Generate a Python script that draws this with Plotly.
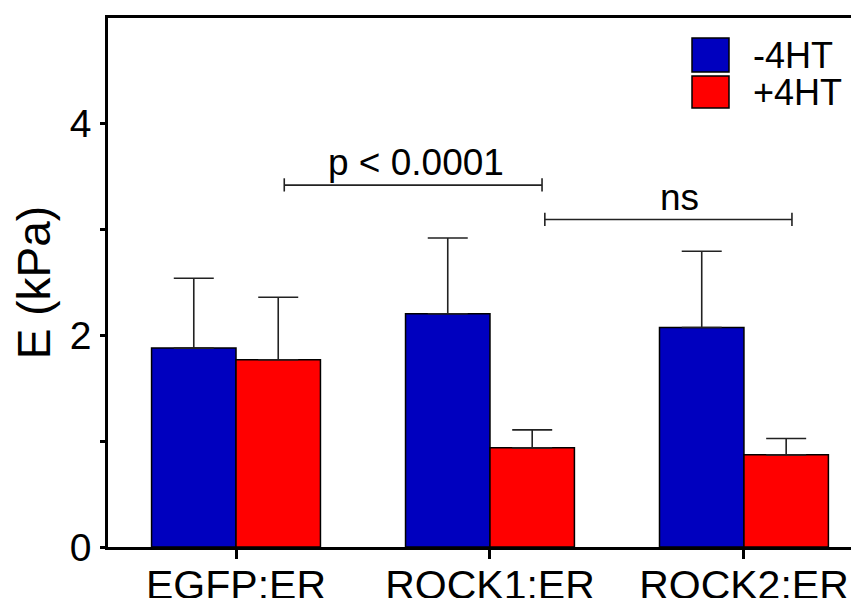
import plotly.graph_objects as go

categories = ["EGFP:ER", "ROCK1:ER", "ROCK2:ER"]
series_names = ["-4HT", "+4HT"]
minus_vals = [1.88, 2.205, 2.075]
minus_err = [0.66, 0.715, 0.72]
plus_vals = [1.77, 0.937, 0.871]
plus_err = [0.59, 0.17, 0.155]
colors = ["#0000BF", "#FF0000"]

# significance brackets: (x_start, x_end, y, label, label_x)
brackets = [
    (0.19, 1.205, 3.42, "p < 0.0001", 0.709),
    (1.216, 2.189, 3.095, "ns", 1.746),
]

FONT = "Liberation Sans, Arial, sans-serif"
xpos = list(range(len(categories)))

fig = go.Figure()
for name, vals, errs, col in [
    (series_names[0], minus_vals, minus_err, colors[0]),
    (series_names[1], plus_vals, plus_err, colors[1]),
]:
    fig.add_trace(go.Bar(
        x=xpos, y=vals, name=name,
        marker=dict(color=col, line=dict(color="black", width=1.5)),
        error_y=dict(type="data", array=errs, arrayminus=[0] * len(errs),
                     symmetric=False, color="#222", thickness=1.6, width=20),
        showlegend=False,
    ))

shapes = []
annotations = []
for x0, x1, y, label, lx in brackets:
    shapes.append(dict(type="line", xref="x", yref="y", x0=x0, x1=x1, y0=y, y1=y,
                       line=dict(color="#222", width=1.6)))
    for xe in (x0, x1):
        shapes.append(dict(type="line", xref="x", yref="y", x0=xe, x1=xe,
                           y0=y - 0.06, y1=y + 0.065, line=dict(color="#222", width=1.6)))
    annotations.append(dict(x=lx, y=y, xref="x", yref="y", text=label, showarrow=False,
                            yanchor="bottom", yshift=0,
                            font=dict(family=FONT, size=37, color="black")))

# manual legend (positions relative to the plot area)
leg_y = [(38, 72), (76, 108)]
plot_top, plot_h, plot_w = 18, 529, 751
for (ya, yb), name, col in zip(leg_y, series_names, colors):
    shapes.append(dict(type="rect", xref="paper", yref="paper",
                       x0=(692 - 108) / plot_w, x1=(729 - 108) / plot_w,
                       y0=1 - (yb - plot_top) / plot_h, y1=1 - (ya - plot_top) / plot_h,
                       fillcolor=col, line=dict(color="black", width=1.5)))
    annotations.append(dict(x=(751 - 108) / plot_w, y=1 - ((ya + yb) / 2 - plot_top) / plot_h,
                            xref="paper", yref="paper", text=name, showarrow=False,
                            xanchor="left", yanchor="middle",
                            font=dict(family=FONT, size=36, color="black")))

# the page body adds an 8px margin, so the figure is 8px smaller
fig.update_layout(
    width=851, height=590,
    margin=dict(l=100, r=0, t=10, b=51),
    paper_bgcolor="white", plot_bgcolor="white",
    barmode="group", bargap=0.335, bargroupgap=0,
    shapes=shapes, annotations=annotations,
    font=dict(family=FONT, color="black"),
)
fig.update_xaxes(
    range=[-0.504, 2.453], tickvals=xpos, ticktext=categories,
    showline=True, linecolor="black", linewidth=2.5, mirror=True,
    ticks="outside", ticklen=9, tickwidth=2.5, tickcolor="black",
    tickfont=dict(family=FONT, size=41, color="black"),
    ticklabelstandoff=-9,
    showgrid=False, zeroline=False, automargin=False,
)
fig.update_yaxes(
    range=[0, 5], tickvals=[0, 1, 2, 3, 4], ticktext=["0", "", "2", "", "4"],
    showline=True, linecolor="black", linewidth=2.5,
    ticks="outside", ticklen=5, tickwidth=2.5, tickcolor="black",
    tickfont=dict(family=FONT, size=39, color="black"),
    ticklabelstandoff=1,
    title=dict(text="E (kPa)", font=dict(family=FONT, size=46, color="black"), standoff=6),
    showgrid=False, zeroline=False, automargin=False,
)

fig.write_html("out.html")
